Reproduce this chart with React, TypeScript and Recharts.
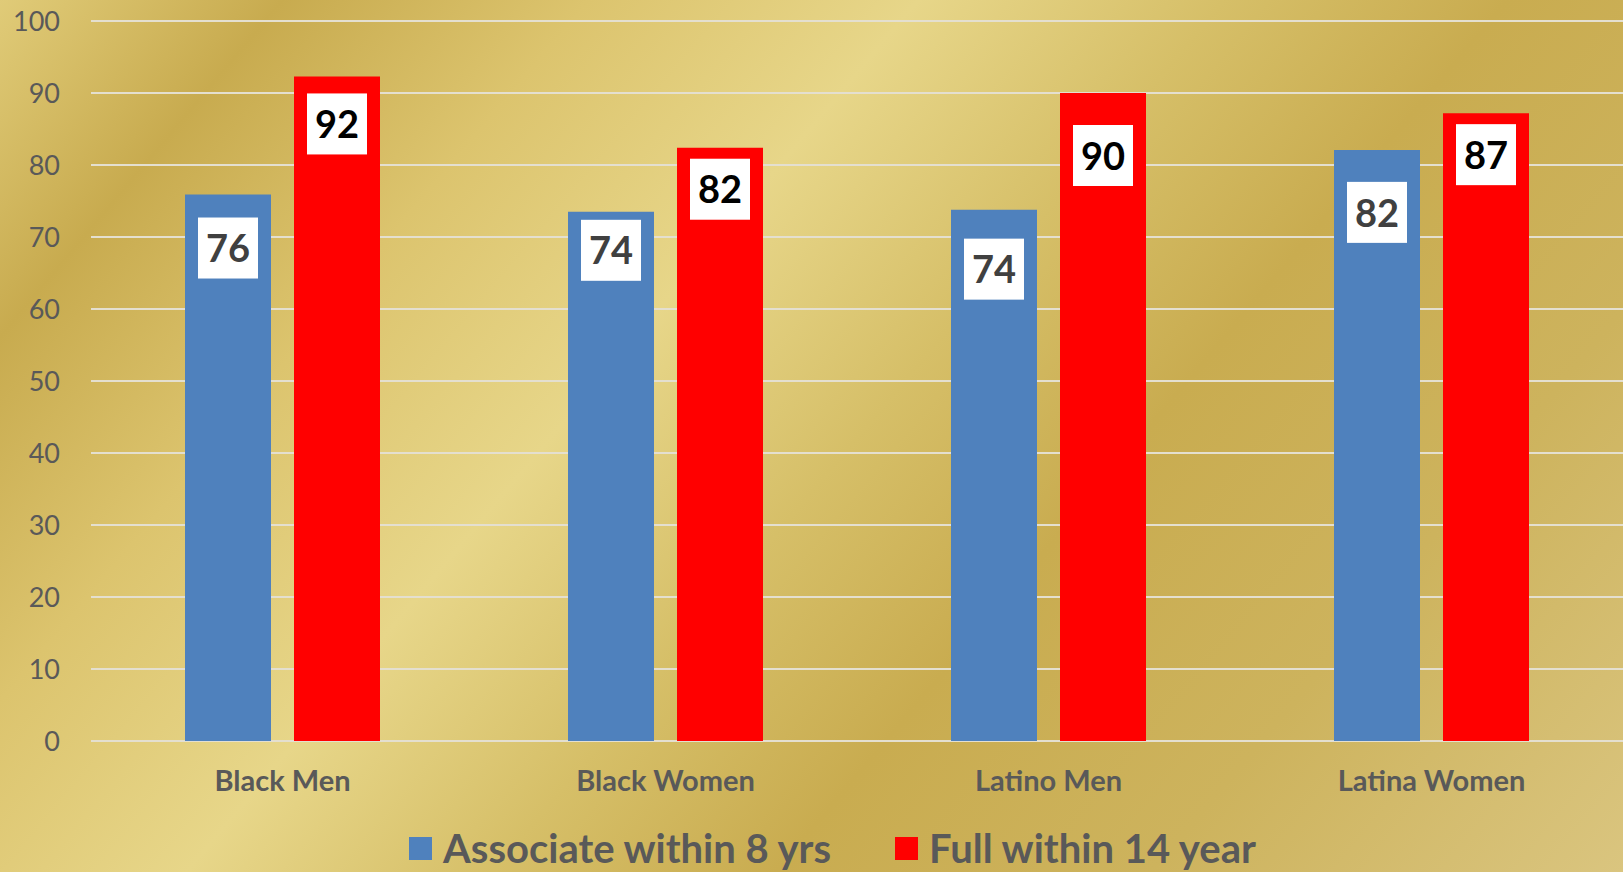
import { BarChart, Bar, XAxis, YAxis, CartesianGrid, Legend, LabelList } from 'recharts'

const groups = ['Black Men', 'Black Women', 'Latino Men', 'Latina Women']
const associate = [75.9, 73.5, 73.8, 82.1]
const full = [92.3, 82.4, 90.0, 87.2]
const yTicks = [0, 10, 20, 30, 40, 50, 60, 70, 80, 90, 100]
const seriesNames = ['Associate within 8 yrs', 'Full within 14 year']

// label boxes were hand-placed in the original, so each one sits a little differently
const associateDrop = [23, 8, 29, 32]
const fullDrop = [17, 11, 32, 11]

const data = groups.map((g, i) => ({ group: g, associate: associate[i], full: full[i] }))

const FONT = 'Lato, "Open Sans", sans-serif'

function boxLabel(drops: number[], color: string) {
  return (props: any) => {
    const { x, y, width, value, index } = props
    const cx = Number(x) + Number(width) / 2
    const top = Number(y) + drops[index]
    return (
      <g>
        <rect x={cx - 30} y={top} width={60} height={61} fill="#ffffff" />
        <text
          x={cx}
          y={top + 31}
          dy="0.36em"
          textAnchor="middle"
          fontFamily={FONT}
          fontWeight={700}
          fontSize={38}
          fill={color}
        >
          {Math.round(Number(value))}
        </text>
      </g>
    )
  }
}

function LegendRow({ payload }: any) {
  return (
    <div style={{ display: 'flex', justifyContent: 'center', alignItems: 'center', fontFamily: FONT }}>
      {(payload || []).map((p: any, i: number) => (
        <div key={i} style={{ display: 'flex', alignItems: 'center', marginRight: i === 0 ? 64 : 0 }}>
          <span style={{ width: 23, height: 23, background: p.color, display: 'inline-block', marginRight: 11 }} />
          <span style={{ fontSize: 40, fontWeight: 700, color: '#595959', lineHeight: '42px' }}>{p.value}</span>
        </div>
      ))}
    </div>
  )
}

export default function App() {
  return (
    <div
      style={{
        position: 'absolute',
        left: 0,
        top: 0,
        width: 1623,
        height: 872,
        overflow: 'hidden',
        background:
          'linear-gradient(130deg, #e0cb78 0%, #c8ab4f 12%, #dcc46e 25%, #e7d689 39%, #d6bf68 52%, #c9ac50 64%, #cdb35d 80%, #dac57f 100%)',
      }}
    >
      <BarChart
        width={1623}
        height={872}
        data={data}
        margin={{ top: 21, right: 0, left: 0, bottom: 0 }}
        barSize={86}
        barGap={23}
      >
        <CartesianGrid vertical={false} stroke="#e4dfcf" strokeWidth={2} />
        <XAxis
          dataKey="group"
          height={131}
          axisLine={false}
          tickLine={false}
          tickSize={0}
          tickMargin={29}
          tick={{ fontFamily: FONT, fontSize: 29, fontWeight: 700, fill: '#595959' }}
        />
        <YAxis
          width={91}
          domain={[0, 100]}
          ticks={yTicks}
          axisLine={false}
          tickLine={false}
          tickSize={0}
          tickMargin={31}
          tick={{ fontFamily: FONT, fontSize: 27, fill: '#595959' }}
        />
        <Legend
          verticalAlign="middle"
          layout="horizontal"
          wrapperStyle={{ left: 21, top: 827, width: 1623 }}
          content={<LegendRow />}
        />
        <Bar dataKey="associate" name={seriesNames[0]} fill="#4f81bd" isAnimationActive={false}>
          <LabelList dataKey="associate" content={boxLabel(associateDrop, '#404040')} />
        </Bar>
        <Bar dataKey="full" name={seriesNames[1]} fill="#ff0000" isAnimationActive={false}>
          <LabelList dataKey="full" content={boxLabel(fullDrop, '#000000')} />
        </Bar>
      </BarChart>
    </div>
  )
}
